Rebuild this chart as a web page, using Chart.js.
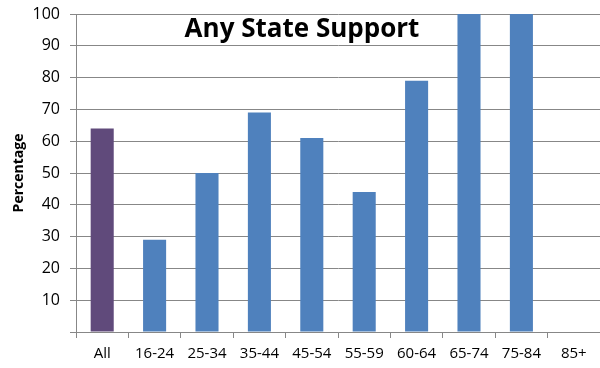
<!DOCTYPE html>
<html>
<head>
<meta charset="utf-8">
<script src="https://cdn.jsdelivr.net/npm/chart.js@4"></script>
<style>
  html, body { margin: 0; padding: 0; background: #fff; }
  #wrap { width: 600px; height: 368px; position: relative; }
</style>
</head>
<body>
<div id="wrap"><canvas id="chart"></canvas></div>
<script>
// Data
const ageGroups = ['All', '16-24', '25-34', '35-44', '45-54', '55-59', '60-64', '65-74', '75-84', '85+'];
const supportPct = [64, 29, 50, 69, 61, 44, 79, 100, 100, 0];
const yTicks = [0, 10, 20, 30, 40, 50, 60, 70, 80, 90, 100];

const chartTitle = 'Any State Support';
const yLabel = 'Percentage';

const BLUE = '#4f81bd';
const PURPLE = '#604a7b';
const GRID = '#878787';

Chart.defaults.font.family = "'Open Sans', sans-serif";
Chart.defaults.color = '#000';

// Title sits inside the plot area, on a white box
const innerTitle = {
  id: 'innerTitle',
  afterDraw(chart) {
    const ctx = chart.ctx;
    ctx.save();
    ctx.font = "bold 26px 'Open Sans', sans-serif";
    ctx.textAlign = 'center';
    ctx.textBaseline = 'middle';
    const w = ctx.measureText(chartTitle).width;
    ctx.fillStyle = '#fff';
    ctx.fillRect(302 - w / 2 - 4, 16, w + 8, 27);
    ctx.fillStyle = '#000';
    ctx.fillText(chartTitle, 302, 30);
    ctx.restore();
  }
};

new Chart(document.getElementById('chart'), {
  type: 'bar',
  data: {
    labels: ageGroups,
    datasets: [{
      data: supportPct,
      backgroundColor: ageGroups.map((g, i) => i === 0 ? PURPLE : BLUE),
      borderWidth: 0,
      barPercentage: 0.44,
      categoryPercentage: 1
    }]
  },
  options: {
    responsive: true,
    maintainAspectRatio: false,
    animation: false,
    layout: { padding: { top: 14, right: 0, left: 0, bottom: 0 } },
    plugins: {
      legend: { display: false },
      tooltip: { enabled: false }
    },
    scales: {
      x: {
        grid: {
          offset: true,
          drawOnChartArea: false,
          drawTicks: true,
          tickLength: 6,
          color: GRID
        },
        border: { color: GRID, width: 1 },
        ticks: { font: { size: 15 }, color: '#000', padding: 7, maxRotation: 0 },
        afterFit(scale) { scale.height = 36; }
      },
      y: {
        min: 0,
        max: 100,
        afterBuildTicks(scale) { scale.ticks = yTicks.map(v => ({ value: v })); },
        grid: { color: GRID, tickLength: 6, drawTicks: true },
        border: { color: GRID, width: 1 },
        ticks: {
          font: { size: 16 },
          color: '#000',
          padding: 10,
          callback: v => v === 0 ? '' : v
        },
        title: {
          display: true,
          text: yLabel,
          font: { size: 14, weight: 'bold' },
          color: '#000',
          padding: { top: 11, bottom: 0 }
        },
        afterFit(scale) {
          scale.width = 76;
          scale.paddingTop = 0;
          scale.paddingBottom = 0;
        }
      }
    }
  },
  plugins: [innerTitle]
});
</script>
</body>
</html>
